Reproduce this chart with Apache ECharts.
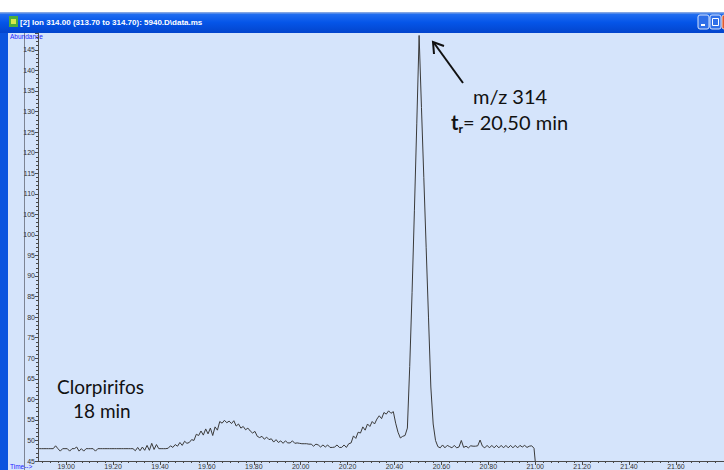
<!DOCTYPE html>
<html>
<head>
<meta charset="utf-8">
<script src="https://cdn.jsdelivr.net/npm/echarts@6/dist/echarts.min.js"></script>
<style>
  html, body { margin: 0; padding: 0; background: #fff; }
  #main { width: 724px; height: 470px; }
</style>
</head>
<body>
<div id="main"></div>
<script>
// scan time base of the extracted ion trace (min)
var scanStart = 18.885
var scanStep = 0.01
// abundance, one value per scan
var abundance = [
  48, 48, 48, 48, 48, 48, 48, 48.7, 48, 47.4,
  48, 48, 48, 47.4, 48, 48, 48.4, 47.4, 48, 47.4,
  48, 48, 48, 48, 47.4, 48, 48, 48, 48, 48,
  48, 48, 48, 48, 48, 48, 48, 48, 48, 48,
  48, 47.5, 48.3, 47.5, 48.4, 47.6, 48.8, 47.6, 49.3, 47.8,
  49.0, 48, 48, 48, 48, 48.1, 48.7, 48.3, 49.0, 48.6,
  49.5, 48.8, 49.8, 49.3, 49.5, 50.2, 50.0, 51.5, 51.2, 52.3,
  51.3, 52.8, 51.6, 53.0, 51.2, 53.3, 52.5, 54.6, 54.2, 54.9,
  54.3, 54.7, 54.1, 54.8, 53.5, 54.0, 53.0, 53.4, 52.6, 53.0,
  52.3, 51.8, 52.2, 51.0, 50.7, 51.0, 50.3, 50.8, 50.2, 50.4,
  49.6, 50.2, 49.5, 49.9, 49.3, 49.9, 49.4, 49.4, 49.9, 49.3,
  49.4, 49.3, 49.2, 49.2, 49.2, 49.1, 49.1, 48.6, 49.1, 48.9,
  48.4, 48.9, 48.4, 48.9, 48.3, 48.3, 48.4, 48.9, 48.3, 48.3,
  48.9, 48.3, 49.2, 49.4, 51.1, 50.5, 52.0, 51.8, 53.3, 52.5,
  54.0, 53.4, 54.6, 54.0, 55.2, 56.0, 55.3, 56.8, 56.4, 57.2,
  56.6, 57.0, 54.2, 52.0, 50.6, 51.0, 51.2, 53, 68, 86,
  106, 127, 148.5, 131, 114, 97, 80, 63, 54, 50,
  48.5, 48.2, 48.9, 48.2, 48.8, 48.5, 48.2, 48.8, 48.2, 48.4,
  50.0, 48.3, 48.6, 48.2, 48.7, 48.6, 48.6, 48.7, 50.1, 48.6,
  48.2, 48.8, 48.2, 48.8, 48.2, 48.8, 48.2, 48.8, 48.2, 48.8,
  48.2, 48.8, 48.2, 48.8, 48.2, 48.8, 48.4, 48.8, 48.3, 48.6,
  48.7, 48.1
]
// trace drops to the axis where the acquisition window ends
var traceEnd = [21.0, 45]
var timeTicks = [19.0, 19.2, 19.4, 19.6, 19.8, 20.0, 20.2, 20.4, 20.6, 20.8, 21.0, 21.2, 21.4, 21.6]

var points = abundance.map(function (v, i) {
  return [scanStart + i * scanStep, v]
})
points.push(traceEnd)

// minor ticks: 6 per labelled interval
var minorTicks = []
for (var k = 0; k < timeTicks.length; k++) {
  for (var m = -5; m <= 5; m++) {
    var t = +(timeTicks[k] + m * 0.2 / 6).toFixed(4)
    if (t > 18.88 && t < 21.8 && minorTicks.indexOf(t) < 0) minorTicks.push(t)
  }
}

var axisColor = '#4a4a4a'
var blueText = '#1a1aff'

var myChart = echarts.init(document.getElementById('main'), null, { renderer: 'svg' })
var option = {
  backgroundColor: '#d5e4fb',
  animation: false,
  grid: { left: 38, right: 0, top: 33, bottom: 8 },
  xAxis: [
    {
      type: 'value',
      min: 18.88,
      max: 21.805,
      axisLine: { lineStyle: { color: axisColor, width: 1 } },
      axisTick: { customValues: timeTicks, length: 4, lineStyle: { color: axisColor } },
      axisLabel: {
        customValues: timeTicks,
        formatter: function (v) { return v.toFixed(2) },
        fontSize: 7, color: '#333', margin: 2, fontFamily: 'Liberation Sans'
      },
      splitLine: { show: false }
    },
    {
      type: 'value',
      position: 'bottom',
      min: 18.88,
      max: 21.805,
      axisLine: { show: false },
      axisTick: { customValues: minorTicks, length: 2, lineStyle: { color: axisColor } },
      axisLabel: { show: false, customValues: minorTicks },
      splitLine: { show: false }
    }
  ],
  yAxis: {
    type: 'value',
    min: 45,
    max: 149.1,
    interval: 5,
    axisLine: { show: true, lineStyle: { color: axisColor, width: 1 } },
    axisTick: { show: true, length: 3, lineStyle: { color: axisColor } },
    minorTick: { show: true, splitNumber: 5, length: 2, lineStyle: { color: axisColor } },
    axisLabel: {
      formatter: function (v) { return v % 5 === 0 ? String(v) : '' },
      fontSize: 7, color: '#333', margin: 3, fontFamily: 'Liberation Sans'
    },
    splitLine: { show: false }
  },
  series: [
    {
      name: 'Ion 314.00',
      type: 'line',
      data: points,
      showSymbol: false,
      lineStyle: { color: '#3a3a3a', width: 1 },
      z: 3
    }
  ],
  graphic: [
    { type: 'rect', shape: { x: 0, y: 0, width: 724, height: 12 }, style: { fill: '#ffffff' } },
    {
      type: 'rect', shape: { x: 0, y: 12, width: 724, height: 21 },
      style: {
        fill: new echarts.graphic.LinearGradient(0, 0, 0, 1, [
          { offset: 0, color: '#9db5e0' },
          { offset: 0.12, color: '#1f6cf0' },
          { offset: 0.5, color: '#0555e8' },
          { offset: 1, color: '#0344cc' }
        ])
      }
    },
    { type: 'rect', shape: { x: 0, y: 33, width: 8, height: 437 }, style: { fill: '#0a54df' } },
    { type: 'line', shape: { x1: 24.5, y1: 33, x2: 24.5, y2: 470 }, style: { stroke: '#7d8494', lineWidth: 1 } },
    // window icon
    { type: 'rect', shape: { x: 9, y: 16, width: 9, height: 11 }, style: { fill: '#4cae3c' } },
    { type: 'rect', shape: { x: 11, y: 19, width: 5, height: 5 }, style: { fill: '#d8e84a' } },
    {
      type: 'text', left: 20, top: 18,
      style: {
        text: '[2] Ion 314.00 (313.70 to 314.70): 5940.D\\data.ms',
        fill: '#ffffff', font: 'bold 8px "Liberation Sans"'
      }
    },
    // title bar buttons
    { type: 'rect', shape: { x: 698, y: 15, width: 11, height: 14, r: 2 }, style: { fill: '#2f6fe8', stroke: '#d8e4fb', lineWidth: 1 } },
    { type: 'rect', shape: { x: 701, y: 24, width: 4, height: 2 }, style: { fill: '#ffffff' } },
    { type: 'rect', shape: { x: 710, y: 15, width: 11, height: 14, r: 2 }, style: { fill: '#2f6fe8', stroke: '#d8e4fb', lineWidth: 1 } },
    { type: 'rect', shape: { x: 712.5, y: 18.5, width: 6, height: 7 }, style: { fill: 'none', stroke: '#ffffff', lineWidth: 1 } },
    { type: 'rect', shape: { x: 722, y: 15, width: 8, height: 14, r: 2 }, style: { fill: '#e2582c', stroke: '#f0d0c0', lineWidth: 1 } },
    {
      type: 'text', left: 10, top: 33,
      style: { text: 'Abundance', fill: blueText, font: '6.5px "Liberation Sans"' }
    },
    {
      type: 'text', left: 10, top: 463,
      style: { text: 'Time-->', fill: blueText, font: '6.5px "Liberation Sans"' }
    },
    // annotations
    {
      type: 'text', left: 57, top: 377,
      style: { text: 'Clorpirifos', fill: '#111', font: '19px Lato' }
    },
    {
      type: 'text', left: 73, top: 401,
      style: { text: '18 min', fill: '#111', font: '19px Lato' }
    },
    {
      type: 'text', left: 473, top: 86,
      style: { text: 'm/z 314', fill: '#111', font: '20px Lato' }
    },
    {
      type: 'text', left: 451, top: 110,
      style: {
        text: '{b|t}{s|r}{n|= 20,50 min}',
        rich: {
          b: { fontFamily: 'Lato', fontSize: 20, fontWeight: 'bold', fill: '#111', lineHeight: 24 },
          s: { fontFamily: 'Lato', fontSize: 12, fontWeight: 'bold', fill: '#111', padding: [12, 0, 0, 0], lineHeight: 24 },
          n: { fontFamily: 'Lato', fontSize: 20, fill: '#111', lineHeight: 24 }
        }
      }
    },
    {
      type: 'polyline',
      shape: { points: [[463, 83], [434, 43]] },
      style: { stroke: '#111', lineWidth: 2, fill: 'none' }
    },
    {
      type: 'polyline',
      shape: { points: [[434, 54], [433, 42], [444, 46]] },
      style: { stroke: '#111', lineWidth: 2, fill: 'none' }
    }
  ]
}
myChart.setOption(option)
</script>
</body>
</html>
